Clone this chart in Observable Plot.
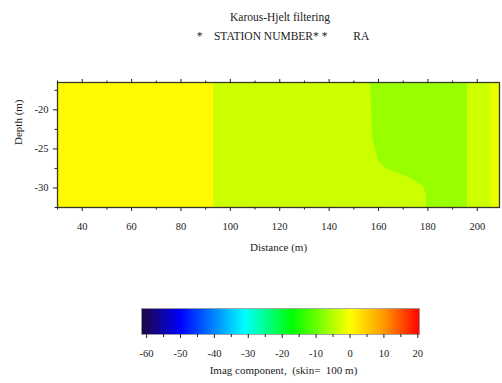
<!DOCTYPE html>
<html>
<head>
<meta charset="utf-8">
<script src="https://cdn.jsdelivr.net/npm/d3@7"></script>
<script src="https://cdn.jsdelivr.net/npm/@observablehq/plot@0.6"></script>
<style>
  body { margin: 0; background: #fff; width: 502px; height: 383px; overflow: hidden;
         font-family: "Liberation Serif", "DejaVu Serif", serif; color: #222; }
  #title { position: relative; height: 52px; }
  #title div { position: absolute; left: 130px; width: 300px; text-align: center;
               font-size: 11.5px; line-height: 14px; white-space: pre; }
  svg { display: block; }
</style>
</head>
<body>
<div id="title">
  <div style="top:10px">Karous-Hjelt filtering</div>
  <div style="top:29px; left:133px">*    STATION NUMBER* *         RA</div>
</div>
<div id="section"></div>
<div id="ramp"></div>
<script>
// Vertical bands of the filtered section: distance range and value
const bandStart = [30, 93, 196, 205.5];
const bandEnd   = [93, 196, 205.5, 209];
const bandValue = [0.5, -3.4, -3.4, -1.5];

// Low anomaly: western outline with depth, bounded on the east at 196 m
const anomalyDepth = [-16.5, -23.5, -26.5, -27.5, -28.0, -28.8, -29.8, -31.0, -32.5];
const anomalyWest  = [156.8, 157.6, 160.0, 162.8, 166.9, 173.0, 178.2, 179.5, 179.5];
const anomalyEast  = 196;
const anomalyValue = -6.8;

// Axis ticks
const xMajor = [40, 60, 80, 100, 120, 140, 160, 180, 200];
const xMinor = [30, 50, 70, 90, 110, 130, 150, 170, 190];
const yMajor = [-20, -25, -30];
const yMinor = [-17.5, -22.5, -27.5, -32.5];

// Colour ramp (value stops and colours) and its ticks
const rampStops  = [-61.5, -50, -31, -17, 0, 10, 20.5];
const rampColors = ["#1e0840", "#0000ff", "#00ffff", "#00ff00", "#ffff00", "#ff9900", "#ff0000"];
const rampMajor  = [-60, -50, -40, -30, -20, -10, 0, 10, 20];
const rampMinor  = [-55, -45, -35, -25, -15, -5, 5, 15];

const bands = bandStart.map((s, i) => ({start: s, end: bandEnd[i], value: bandValue[i]}));
const anomaly = anomalyDepth.map((d, i) => ({depth: d, west: anomalyWest[i], east: anomalyEast}));

const colorScale = {type: "linear", domain: rampStops, range: rampColors, interpolate: "rgb", clamp: true};
const font = {fontFamily: "'Liberation Serif', serif", fontSize: "10.5px", color: "#222", background: "transparent"};

const section = Plot.plot({
  width: 502, height: 210,
  marginLeft: 57, marginRight: 3, marginTop: 30, marginBottom: 55,
  style: font,
  x: {domain: [30, 209]},
  y: {domain: [-32.5, -16.5]},
  color: colorScale,
  marks: [
    Plot.rect(bands, {x1: "start", x2: "end", fill: "value", shapeRendering: "crispEdges"}),
    Plot.areaX(anomaly, {y: "depth", x1: "west", x2: "east", fill: () => anomalyValue}),
    Plot.frame({stroke: "#3a3a2a", strokeWidth: 1.3}),
    Plot.axisX(xMajor, {anchor: "bottom", tickSize: 4, tickPadding: 11, tickFormat: String, label: null}),
    Plot.axisX(xMinor, {anchor: "bottom", tickSize: 2.5, fill: "none", label: null}),
    Plot.axisX(xMajor, {anchor: "top", tickSize: 4, fill: "none", label: null}),
    Plot.axisX(xMinor, {anchor: "top", tickSize: 2.5, fill: "none", label: null}),
    Plot.axisY(yMajor, {anchor: "left", tickSize: 4, tickPadding: 5, tickFormat: String, label: null}),
    Plot.axisY(yMinor, {anchor: "left", tickSize: 2.5, fill: "none", label: null}),
    Plot.text(["Distance (m)"], {frameAnchor: "bottom", dy: 43, fontSize: 11, fill: "#222"}),
    Plot.text(["Depth (m)"], {frameAnchor: "left", dx: -39, rotate: -90, fontSize: 11, fill: "#222"})
  ]
});
document.getElementById("section").append(section);

const ramp = Plot.plot({
  width: 502, height: 121,
  marginLeft: 141, marginRight: 83, marginTop: 46, marginBottom: 49,
  style: font,
  x: {domain: [-61.5, 20.5]},
  y: {domain: [0, 1], axis: null},
  color: colorScale,
  marks: [
    Plot.raster({fill: (x, y) => x, x1: -61.5, x2: 20.5, y1: 0, y2: 1, pixelSize: 1}),
    Plot.frame({stroke: "#999", strokeWidth: 0.8}),
    Plot.axisX(rampMajor, {anchor: "bottom", tickSize: 4, tickPadding: 11, tickFormat: String, label: null}),
    Plot.axisX(rampMinor, {anchor: "bottom", tickSize: 3, fill: "none", label: null}),
    Plot.text(["Imag component,  (skin=  100 m)"], {frameAnchor: "bottom", dy: 39, dx: 3, fontSize: 11, fill: "#222"})
  ]
});
document.getElementById("ramp").append(ramp);
</script>
</body>
</html>
